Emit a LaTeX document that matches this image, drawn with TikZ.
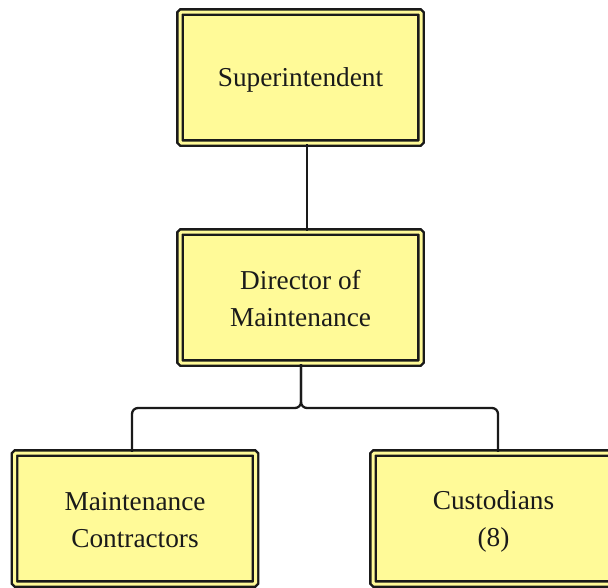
\documentclass[tikz,border=0pt]{standalone}
\usepackage{fontspec}
\setmainfont{Liberation Serif}
\usetikzlibrary{calc}
\definecolor{boxfill}{HTML}{FFFA98}
\definecolor{ink}{HTML}{1A1A1A}
\tikzset{
  orgbox/.style={draw=ink, double=boxfill, double distance=3pt, line width=2.4pt,
    fill=boxfill, rounded corners=1.5pt, minimum width=241pt, minimum height=131pt,
    inner sep=0pt, align=center, text=ink, font=\fontsize{27.3}{37}\selectfont},
  label/.style={align=center, text=ink, font=\fontsize{27.3}{37}\selectfont, inner sep=0pt},
  link/.style={draw=ink, line width=2.3pt, rounded corners=6pt}
}
\begin{document}
\begin{tikzpicture}[x=1pt,y=-1pt]
  \useasboundingbox (0,0) rectangle (608,587);
  % boxes
  \node[orgbox] (sup) at (300.5,77.5) {};
  \node[orgbox] (dir) at (300.5,297.5) {};
  \node[orgbox] (mc)  at (135,518.5) {};
  \node[orgbox] (cu)  at (493.5,518.5) {};
  % box texts, set a little below the box centres
  \node[label] (supt) at ([yshift=-2.5pt]sup.center) {Superintendent};
  \node[label] (dirt) at ([yshift=-1.5pt]dir.center) {Director of\\Maintenance};
  \node[label] (mct)  at ([yshift=-2pt]mc.center) {Maintenance\\Contractors};
  \node[label] (cut)  at ([yshift=-2.5pt]cu.center) {Custodians\\(8)};
  % connectors
  \coordinate (bus) at (301,408);
  \draw[link] ([xshift=6.5pt]sup.south) -- ([xshift=6.5pt]dir.north);
  \draw[link] ([xshift=0.5pt]dir.south) -- (bus) -| ([xshift=-3pt]mc.north);
  \draw[link] ([xshift=0.5pt]dir.south) -- (bus) -| ([xshift=4.5pt]cu.north);
\end{tikzpicture}
\end{document}
